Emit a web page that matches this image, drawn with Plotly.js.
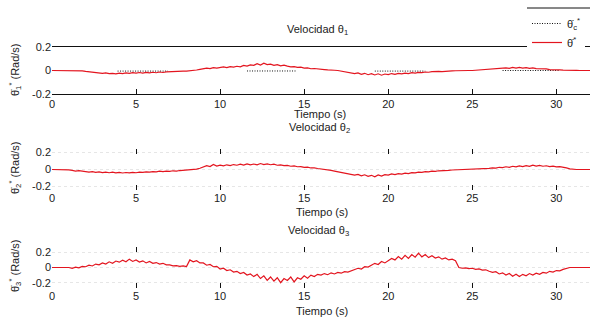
<!DOCTYPE html>
<html>
<head>
<meta charset="utf-8">
<script src="https://cdn.plot.ly/plotly-3.0.1.min.js"></script>
<style>html,body{margin:0;padding:0;background:#fff;}#chart{width:590px;height:325px;}</style>
</head>
<body>
<div id="chart"></div>
<script>
// time grid: 0 .. 32 s, step 0.2 s
const T0 = 0, DT = 0.2;
const xTickVals = [0, 5, 10, 15, 20, 25, 30];
const xTickText = ['0', '5', '10', '15', '20', '25', '30'];
const yTickVals = [-0.2, 0, 0.2];
const yTickText = ['-0.2', '0', '0.2'];

// Velocidad θ1 (measured)
const vel1 = [
  0,0,0,0,0,  0,0,0,0,-0.003,
  -0.008,-0.012,-0.018,-0.02,-0.022,  -0.025,-0.021,-0.027,-0.024,-0.028,
  -0.022,-0.026,-0.02,-0.025,-0.019,  -0.023,-0.017,-0.022,-0.016,-0.02,
  -0.015,-0.019,-0.013,-0.017,-0.012,  -0.012,-0.01,-0.009,-0.008,-0.006,
  -0.005,-0.003,0.0,0.004,0.01,  0.014,0.02,0.016,0.024,0.02,
  0.026,0.03,0.024,0.033,0.029,  0.036,0.031,0.044,0.037,0.048,
  0.044,0.058,0.047,0.062,0.05,  0.054,0.044,0.05,0.04,0.045,
  0.037,0.031,0.033,0.026,0.028,  0.02,0.022,0.015,0.017,0.012,
  0.01,0.008,0.005,0.006,0.002,  0.0,-0.004,-0.01,-0.015,-0.02,
  -0.026,-0.02,-0.032,-0.024,-0.036,  -0.027,-0.038,-0.028,-0.04,-0.03,
  -0.035,-0.026,-0.033,-0.024,-0.029,  -0.022,-0.026,-0.019,-0.023,-0.016,
  -0.018,-0.013,-0.015,-0.01,-0.012,  -0.008,-0.009,-0.005,-0.006,-0.003,
  -0.002,0.0,0.0,0.0,0.0,  0.0,0.002,0.004,0.006,0.009,
  0.012,0.017,0.014,0.021,0.017,  0.023,0.019,0.026,0.02,0.027,
  0.021,0.025,0.018,0.022,0.016,  0.016,0.011,0.013,0.008,0.009,
  0.005,0.006,0.003,0.004,0.002,  0.002,0.001,0.0,0.0,0.0,
  0.0
];
// Velocidad θ1 (reference, dotted segments)
const ref1T = [3.9, 6.9, null, 11.6, 14.5, null, 19.2, 22.2, null, 26.8, 30.2];
const ref1V = [-0.005, -0.005, null, -0.004, -0.004, null, -0.005, -0.005, null, 0.0, 0.0];

// Velocidad θ2
const vel2 = [
  0,0,0,0,0,  -0.005,-0.01,-0.018,-0.014,-0.022,
  -0.025,-0.03,-0.024,-0.034,-0.028,  -0.036,-0.03,-0.038,-0.032,-0.04,
  -0.034,-0.041,-0.035,-0.039,-0.033,  -0.038,-0.03,-0.034,-0.027,-0.031,
  -0.024,-0.028,-0.02,-0.025,-0.018,  -0.021,-0.015,-0.018,-0.012,-0.01,
  -0.006,-0.008,0.0,0.004,0.015,  0.03,0.045,0.035,0.06,0.04,
  0.05,0.042,0.055,0.046,0.058,  0.05,0.062,0.052,0.066,0.055,
  0.064,0.054,0.07,0.058,0.066,  0.056,0.062,0.05,0.055,0.045,
  0.048,0.038,0.042,0.032,0.034,  0.025,0.028,0.018,0.02,0.012,
  0.008,0.004,-0.004,-0.01,-0.018,  -0.025,-0.032,-0.04,-0.05,-0.058,
  -0.066,-0.058,-0.075,-0.062,-0.08,  -0.068,-0.085,-0.064,-0.078,-0.06,
  -0.066,-0.052,-0.06,-0.048,-0.054,  -0.042,-0.048,-0.036,-0.04,-0.03,
  -0.034,-0.025,-0.028,-0.02,-0.022,  -0.015,-0.016,-0.01,-0.01,-0.006,
  -0.004,-0.002,0.0,0.0,0.0,  0.0,0.002,0.006,0.004,0.01,
  0.014,0.02,0.016,0.026,0.022,  0.032,0.026,0.038,0.03,0.042,
  0.034,0.046,0.036,0.05,0.04,  0.048,0.038,0.044,0.034,0.04,
  0.03,0.034,0.022,0.018,0.008,  0.002,0.0,0.0,0.0,0.0,
  0.0
];

// Velocidad θ3
const vel3 = [
  0,0,0,0,0,  0,-0.01,0.005,-0.005,0.015,
  0.01,0.03,0.02,0.045,0.035,  0.06,0.045,0.075,0.055,0.085,
  0.07,0.095,0.075,0.11,0.08,  0.1,0.072,0.088,0.06,0.08,
  0.055,0.065,0.045,0.055,0.035,  0.035,0.022,0.025,0.015,0.02,
  0.012,0.1,0.075,0.09,0.06,  0.06,0.03,0.04,0.01,0.015,
  -0.02,-0.01,-0.04,-0.03,-0.06,  -0.05,-0.08,-0.065,-0.1,-0.085,
  -0.12,-0.09,-0.145,-0.11,-0.17,  -0.125,-0.18,-0.135,-0.2,-0.145,
  -0.17,-0.125,-0.19,-0.135,-0.155,  -0.11,-0.14,-0.1,-0.12,-0.09,
  -0.1,-0.08,-0.095,-0.07,-0.085,  -0.065,-0.075,-0.055,-0.06,-0.04,
  -0.03,-0.01,-0.02,0.01,0.005,  0.03,0.055,0.04,0.08,0.06,
  0.09,0.12,0.1,0.145,0.11,  0.16,0.12,0.17,0.135,0.19,
  0.14,0.17,0.13,0.155,0.125,  0.14,0.11,0.125,0.1,0.11,
  0.09,0.0,-0.01,-0.005,-0.015,  -0.01,-0.025,-0.018,-0.035,-0.03,
  -0.05,-0.065,-0.055,-0.085,-0.07,  -0.1,-0.08,-0.115,-0.09,-0.12,
  -0.09,-0.11,-0.08,-0.1,-0.075,  -0.09,-0.065,-0.075,-0.05,-0.06,
  -0.04,-0.045,-0.025,-0.01,0.0,  0.0,0.0,0.0,0.0,0.0,
  0.0
];

const RED = '#e3151f';
const FONT = {family: 'Liberation Sans, Arial, sans-serif', size: 11, color: '#222'};

const traces = [
  {x: ref1T, y: ref1V, mode: 'lines', line: {color: '#111', width: 1, dash: '1px,1.5px'},
   name: 'θ̇<sub>c</sub><sup>*</sup>', xaxis: 'x', yaxis: 'y', connectgaps: false},
  {x0: T0, dx: DT, y: vel1, mode: 'lines', line: {color: RED, width: 1.2},
   name: 'θ̇<sup>*</sup>', xaxis: 'x', yaxis: 'y'},
  {x0: T0, dx: DT, y: vel2, mode: 'lines', line: {color: RED, width: 1.2},
   showlegend: false, xaxis: 'x2', yaxis: 'y2'},
  {x0: T0, dx: DT, y: vel3, mode: 'lines', line: {color: RED, width: 1.2},
   showlegend: false, xaxis: 'x3', yaxis: 'y3'}
];

const H = 325;
function py(px) { return 1 - px / H; }
function pxX(px) { return (px - 52) / 538; }

function xax(anchor, framed) {
  return {
    anchor: anchor, range: [0, 32], tickvals: xTickVals, ticktext: xTickText,
    ticks: 'inside', ticklen: 5, tickcolor: '#111', tickwidth: 1,
    showline: framed, linecolor: '#111', linewidth: 1.2,
    mirror: framed ? true : 'ticks', showgrid: false, zeroline: false,
    tickfont: FONT, fixedrange: true
  };
}
function yax(anchor, dom, r, grid) {
  return {
    anchor: anchor, domain: dom, range: r, tickvals: yTickVals, ticktext: yTickText,
    ticks: '', showline: false, zeroline: false,
    showgrid: grid, gridcolor: '#e6e6e6', griddash: 'dot', gridwidth: 1,
    tickfont: FONT, fixedrange: true
  };
}

const layout = {
  width: 590, height: 325,
  margin: {l: 52, r: 0, t: 0, b: 0},
  paper_bgcolor: '#fff', plot_bgcolor: '#fff',
  font: FONT,
  xaxis: xax('y', true),
  yaxis: yax('x', [py(94), py(47)], [-0.2, 0.2], false),
  xaxis2: xax('y2', false),
  yaxis2: yax('x2', [py(190), py(149)], [-0.24, 0.24], true),
  xaxis3: xax('y3', false),
  yaxis3: yax('x3', [py(288), py(247)], [-0.27, 0.27], true),
  showlegend: true,
  legend: {x: pxX(527), y: py(9), xanchor: 'left', yanchor: 'top',
           bgcolor: '#fff', borderwidth: 0, font: FONT, tracegroupgap: 0},
  shapes: [
    {type: 'line', xref: 'paper', yref: 'paper', x0: pxX(527), x1: 1, y0: py(8), y1: py(8),
     line: {color: '#111', width: 1}}
  ],
  annotations: [
    {text: 'Velocidad θ<sub>1</sub>', x: pxX(317), y: py(30)},
    {text: 'Tiempo (s)', x: pxX(320), y: py(114)},
    {text: 'Velocidad θ<sub>2</sub>', x: pxX(319), y: py(128)},
    {text: 'Tiempo (s)', x: pxX(322), y: py(212)},
    {text: 'Velocidad θ<sub>3</sub>', x: pxX(318), y: py(231)},
    {text: 'Tiempo (s)', x: pxX(322), y: py(311)},
    {text: 'θ̇<sub>1</sub><sup>*</sup> (Rad/s)', x: pxX(15), y: py(70), textangle: -90},
    {text: 'θ̇<sub>2</sub><sup>*</sup> (Rad/s)', x: pxX(15), y: py(168), textangle: -90},
    {text: 'θ̇<sub>3</sub><sup>*</sup> (Rad/s)', x: pxX(15), y: py(266), textangle: -90}
  ].map(a => Object.assign({xref: 'paper', yref: 'paper', showarrow: false,
                            xanchor: 'center', yanchor: 'middle', font: FONT}, a))
};

Plotly.newPlot('chart', traces, layout, {displayModeBar: false, staticPlot: true});
</script>
</body>
</html>
